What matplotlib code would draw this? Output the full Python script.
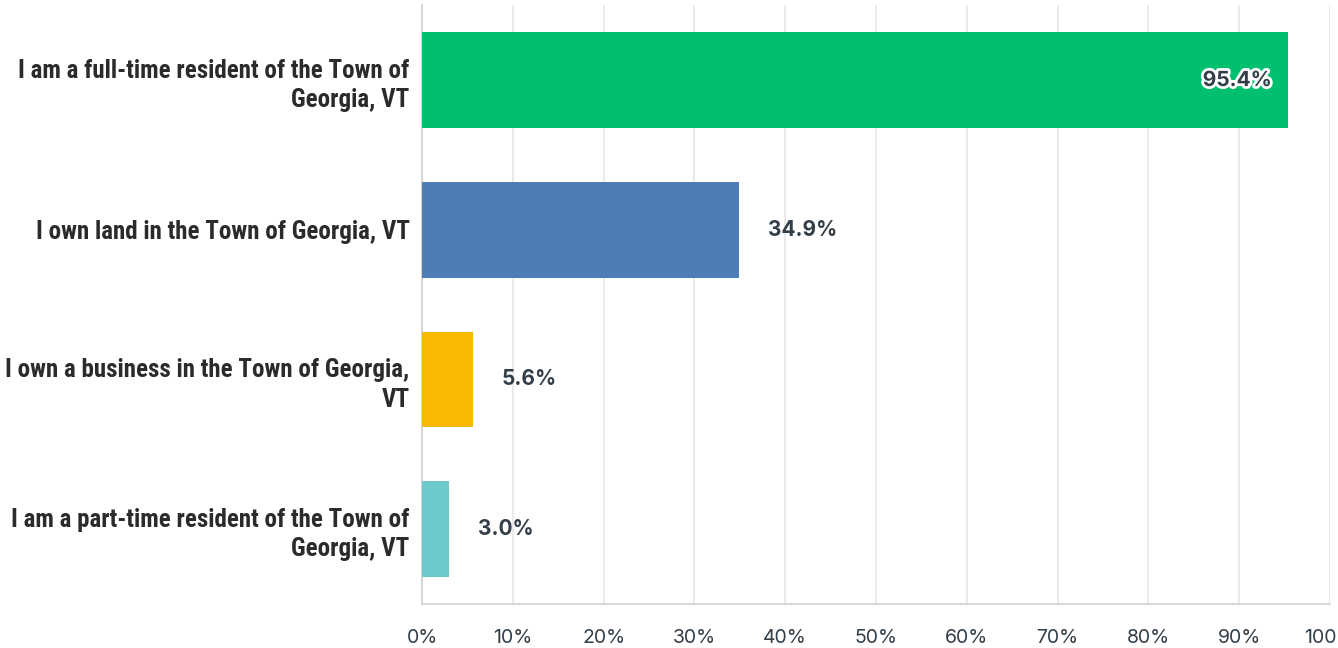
import matplotlib.pyplot as plt
import matplotlib.patheffects as pe
from matplotlib import font_manager

categories = [
    "I am a full-time resident of the Town of\nGeorgia, VT",
    "I own land in the Town of Georgia, VT",
    "I own a business in the Town of Georgia,\nVT",
    "I am a part-time resident of the Town of\nGeorgia, VT",
]
values = [95.4, 34.9, 5.6, 3.0]
colors = ["#00BF6F", "#507CB6", "#F7BA00", "#6BC8CD"]
ticks = list(range(0, 101, 10))
tick_labels = [f"{t}%" for t in ticks]

# prefer a condensed face for the category labels if one is installed
names = {f.name for f in font_manager.fontManager.ttflist}
label_font, label_size = "Roboto", 16
for cand in ["Roboto Condensed", "Liberation Sans Narrow"]:
    if cand in names:
        label_font, label_size = cand, 18
        break

fig = plt.figure(figsize=(13.38, 6.48), dpi=100)
ax = fig.add_axes([0.3154, 0.068, 0.6786, 0.924])

pos = list(range(len(categories)))
ax.barh(pos, values, height=0.64, color=colors, zorder=3)
ax.set_ylim(3.5, -0.5)
ax.set_xlim(0, 100)

ax.set_xticks(ticks)
ax.set_xticklabels(tick_labels, fontsize=14, color="#333e48", family="Inter")
ax.set_yticks(pos)
ax.set_yticklabels(categories, fontsize=label_size, fontweight="bold", color="#2b2b2b",
                   family=label_font, linespacing=1.3)
ax.tick_params(axis="both", length=0)
ax.tick_params(axis="x", pad=18)
ax.tick_params(axis="y", pad=9)

ax.grid(axis="x", color="#e6e6e6", linewidth=1.2, zorder=0)
for s in ["top", "right"]:
    ax.spines[s].set_visible(False)
for s in ["left", "bottom"]:
    ax.spines[s].set_color("#d0d0d0")
    ax.spines[s].set_linewidth(1.2)

for i, v in enumerate(values):
    if v > 80:
        ax.text(v - 1.8, i, f"{v:.1f}%", ha="right", va="center", fontsize=15,
                fontweight="bold", color="#333e48", family="Inter", zorder=4,
                path_effects=[pe.withStroke(linewidth=4, foreground="white")])
    else:
        ax.text(v + 3.2, i, f"{v:.1f}%", ha="left", va="center", fontsize=15,
                fontweight="bold", color="#333e48", family="Inter", zorder=4)

fig.savefig("out.png", dpi=100)
